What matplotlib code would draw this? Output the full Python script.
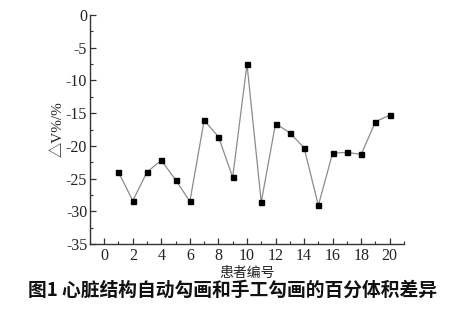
import numpy as np
import matplotlib.pyplot as plt
from matplotlib.ticker import MultipleLocator

plt.rcParams['font.family'] = ['Liberation Serif', 'Noto Sans CJK SC', 'DejaVu Sans']
plt.rcParams['axes.unicode_minus'] = False

patients = list(range(1, 21))
delta_v = [-24.0, -28.4, -24.0, -22.2, -25.2, -28.5, -16.1, -18.6, -24.8, -7.5,
           -28.6, -16.6, -18.0, -20.3, -29.1, -21.1, -21.0, -21.3, -16.3, -15.3]

fig = plt.figure(figsize=(4.66, 3.26), dpi=100)
ax = fig.add_axes([0.193, 0.2515, 0.674, 0.7025])

ax.plot(patients, delta_v, color='#8c8c8c', lw=0.9, marker='s', ms=3.6,
        mfc='black', mec='black', zorder=3)

ax.set_xlim(-1, 21)
ax.set_ylim(-35, 0)
ax.xaxis.set_major_locator(MultipleLocator(2))
ax.xaxis.set_minor_locator(MultipleLocator(1))
ax.yaxis.set_major_locator(MultipleLocator(5))
ax.yaxis.set_minor_locator(MultipleLocator(2.5))
ax.set_xticks(range(0, 21, 2))

for side in ['top', 'right']:
    ax.spines[side].set_visible(False)
for side in ['left', 'bottom']:
    ax.spines[side].set_color('#333333')
    ax.spines[side].set_linewidth(1.0)

ax.tick_params(which='major', direction='in', length=4, width=0.9,
               labelsize=11.5, colors='#333333', labelcolor='#222222')
ax.tick_params(which='minor', direction='in', length=2, width=0.8, colors='#333333')
ax.tick_params(axis='x', pad=3)
ax.tick_params(axis='y', pad=2)

ax.set_ylabel('△V%/%', fontsize=11, color='#222222', labelpad=1)
ax.set_xlabel('患者编号', fontsize=10, color='#222222', labelpad=1,
              family=['Noto Sans CJK SC'])

fig.text(0.5, 0.11, '图1 心脏结构自动勾画和手工勾画的百分体积差异', ha='center', va='center',
         fontsize=13.5, fontweight='bold', color='#111111', family=['Noto Sans CJK SC'])

fig.savefig('out.png', dpi=100)
